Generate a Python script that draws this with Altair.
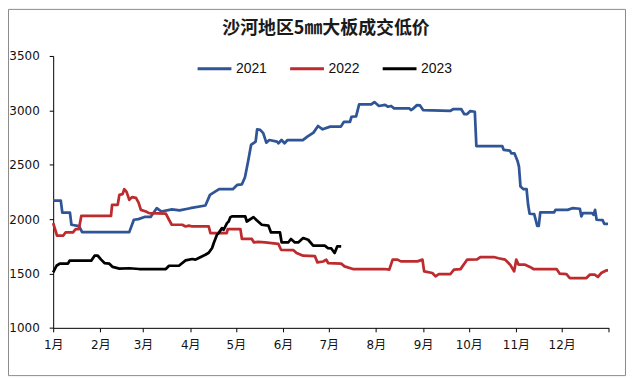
import altair as alt
import pandas as pd

TITLE = "沙河地区5㎜大板成交低价"
SERIES = ["2021", "2022", "2023"]
COLORS = ["#2F5597", "#BE2B2F", "#000000"]
MONTH_LABELS = ["1月", "2月", "3月", "4月", "5月", "6月", "7月", "8月", "9月", "10月", "11月", "12月"]
MONTH_START_DAYS = [0, 31, 59, 90, 120, 151, 181, 212, 243, 273, 304, 334]
Y_TICKS = [1000, 1500, 2000, 2500, 3000, 3500]

# day of year (0 = Jan 1)
days_2021 = [0, 5, 6, 11, 12, 17, 19, 50, 53, 56,
             60, 64, 68, 71, 78, 83, 90, 100, 103, 109,
             118, 121, 124, 126, 128, 130, 133, 134, 136, 138,
             140, 142, 147, 148, 150, 152, 154, 164, 167, 171,
             174, 177, 182, 189, 191, 195, 196, 199, 201, 209,
             211, 214, 218, 220, 222, 224, 234, 235, 236, 239,
             241, 243, 261, 263, 268, 270, 272, 274, 277, 278,
             295, 296, 300, 301, 303, 305, 306, 307, 309, 311,
             312, 313, 316, 318, 319, 320, 329, 330, 338, 341,
             346, 347, 348, 354, 355, 356, 357, 361, 362, 364.5]
price_2021 = [2170, 2170, 2060, 2060, 1948, 1935, 1880, 1880, 1994, 2000,
              2020, 2020, 2100, 2070, 2090, 2080, 2100, 2125, 2223, 2275,
              2275, 2315, 2320, 2385, 2528, 2682, 2712, 2826, 2820, 2790,
              2703, 2727, 2712, 2697, 2727, 2697, 2727, 2727, 2758, 2795,
              2856, 2826, 2850, 2850, 2895, 2895, 2941, 2945, 3055, 3055,
              3076, 3040, 3050, 3033, 3040, 3018, 3018, 3003, 3010, 3048,
              3045, 3003, 2996, 3012, 3012, 2966, 2966, 2993, 2987, 2672,
              2672, 2636, 2630, 2605, 2605, 2537, 2482, 2299, 2275, 2275,
              2131, 2049, 2045, 1938, 1938, 2061, 2061, 2085, 2085, 2100,
              2095, 2024, 2055, 2055, 2040, 2085, 1994, 1990, 1957, 1955]

days_2022 = [0, 1.7, 2.5, 6.5, 8.2, 13, 14.8, 16.9, 18.5, 38,
             38.7, 42.4, 43.5, 45.6, 46.7, 48.2, 50, 51.8, 54.4, 56.1,
             57.6, 60.9, 63, 74, 76.1, 77.9, 84.8, 87, 89.2, 91.3,
             102.2, 103.3, 114, 114.7, 123, 124, 130.5, 131.9, 134.6, 139.2,
             147.9, 149.7, 157.7, 159.9, 164.2, 171.9, 173.6, 177.4, 179.4, 180.6,
             189.2, 191.4, 196.9, 217.6, 220.8, 223, 226.2, 228.4, 239.3, 242.6,
             243.7, 249.1, 251.2, 253.4, 261, 263.3, 267.6, 271.9, 278.5, 280.6,
             289.4, 292.6, 296.9, 300.2, 302.8, 304.2, 305.7, 310, 313.2, 315.5,
             330.7, 332.8, 337.2, 339.4, 350.3, 352.5, 355.7, 357.9, 360, 363.3,
             364.5]
price_2022 = [1963, 1886, 1847, 1847, 1877, 1877, 1908, 1908, 2030, 2030,
              2131, 2131, 2223, 2230, 2275, 2250, 2177, 2202, 2195, 2152,
              2085, 2070, 2055, 2050, 1994, 1948, 1948, 1932, 1940, 1932,
              1932, 1871, 1871, 1908, 1908, 1817, 1817, 1785, 1790, 1785,
              1773, 1718, 1715, 1688, 1663, 1660, 1602, 1610, 1627, 1596,
              1590, 1565, 1541, 1541, 1535, 1627, 1627, 1611, 1611, 1627,
              1519, 1504, 1473, 1495, 1495, 1535, 1540, 1627, 1630, 1651,
              1651, 1640, 1627, 1581, 1519, 1627, 1581, 1581, 1560, 1541,
              1541, 1498, 1495, 1458, 1458, 1489, 1489, 1468, 1504, 1528,
              1528]

days_2023 = [0, 2.2, 4.3, 9.7, 10.8, 25, 27.2, 29.3, 31.5, 33.7,
             36.9, 39.1, 43.5, 50, 56.5, 74, 76.1, 82.6, 87, 91.3,
             93.5, 95.6, 100, 102.2, 104.4, 105.5, 107.6, 108.7, 110.9, 112,
             114.2, 115.3, 116.4, 117.4, 126.2, 127.2, 131.6, 133.7, 137, 141.4,
             143.1, 149, 150.1, 154.4, 156.2, 158.8, 161, 164.2, 167.5, 170.8,
             178.4, 180.5, 182.7, 184.9, 186.6, 189.2]
price_2023 = [1510, 1571, 1590, 1590, 1617, 1617, 1663, 1663, 1627, 1596,
              1590, 1560, 1544, 1548, 1541, 1541, 1571, 1571, 1620, 1633,
              1627, 1642, 1672, 1690, 1734, 1780, 1856, 1871, 1917, 1902,
              1963, 1978, 2018, 2024, 2024, 1978, 2018, 1990, 1948, 1940,
              1877, 1877, 1785, 1785, 1817, 1785, 1785, 1826, 1810, 1755,
              1755, 1734, 1730, 1688, 1749, 1749]

rows = []
for name, ds, ps in [("2021", days_2021, price_2021),
                     ("2022", days_2022, price_2022),
                     ("2023", days_2023, price_2023)]:
    for d, p in zip(ds, ps):
        rows.append({"year": name, "day": d, "price": p})
df = pd.DataFrame(rows)

days_js = "[" + ",".join(str(d) for d in MONTH_START_DAYS) + "]"
labels_js = "[" + ",".join("'" + s + "'" for s in MONTH_LABELS) + "]"
label_expr = f"indexof({days_js}, datum.value) >= 0 ? {labels_js}[indexof({days_js}, datum.value)] : ''"

lines = alt.Chart(df).mark_line(strokeWidth=2.75, strokeJoin="round", clip=False).encode(
    x=alt.X("day:Q",
            scale=alt.Scale(domain=[0, 365], nice=False, zero=False),
            axis=alt.Axis(values=MONTH_START_DAYS + [365], labelExpr=label_expr, title=None,
                          grid=False, tickSize=4, labelPadding=8, domainColor="#000",
                          tickColor="#000", labelFont="DejaVu Sans, Noto Sans CJK SC",
                          labelFontSize=12, labelColor="#111", labelAngle=0,
                          labelAlign="center", labelFlush=False, labelOverlap=False)),
    y=alt.Y("price:Q",
            scale=alt.Scale(domain=[1000, 3500], nice=False, zero=False),
            axis=alt.Axis(values=Y_TICKS, format="d", title=None, grid=False, tickSize=4,
                          labelPadding=10, domainColor="#000", tickColor="#000",
                          labelFont="DejaVu Sans", labelFontSize=12, labelColor="#111")),
    color=alt.Color("year:N",
                    scale=alt.Scale(domain=SERIES, range=COLORS),
                    legend=alt.Legend(title=None, orient="none", legendX=143.6, legendY=-6,
                                      direction="horizontal", symbolType="stroke",
                                      symbolSize=1156, symbolStrokeWidth=3,
                                      labelFont="Liberation Sans", labelFontSize=14,
                                      labelColor="#111", labelOffset=3, columnPadding=16)),
)

border = alt.Chart(pd.DataFrame({"k": [0]})).mark_rect(
    filled=False, stroke="#8a8a8a", strokeWidth=1, clip=False
).encode(
    x=alt.value(-44.9), x2=alt.value(575.1), y=alt.value(-46.8), y2=alt.value(321.2)
)

chart = alt.layer(border, lines).properties(
    width=558.3,
    height=273.2,
    padding={"left": 45.4, "top": 47.3, "right": 17.3, "bottom": 48.5},
    autosize=alt.AutoSizeParams(type="none"),
    title=alt.TitleParams(text=TITLE, font="Noto Sans CJK SC", fontSize=18,
                          fontWeight="bold", color="#1a1a1a", anchor="middle",
                          frame="group", offset=-29, dx=-5),
).configure_view(stroke=None)

chart.save("out.html", embed_options={"renderer": "svg", "actions": False})
